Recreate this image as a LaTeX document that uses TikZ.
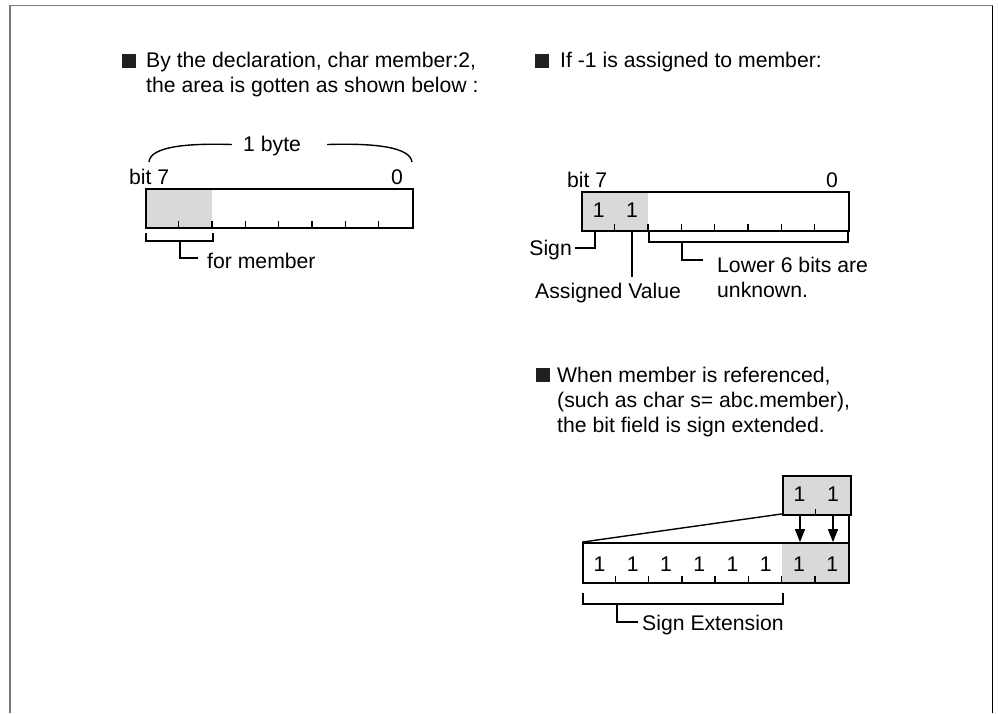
\documentclass[tikz,border=0pt]{standalone}
\usepackage{fontspec}
\setmainfont{Liberation Sans}
\usetikzlibrary{calc,backgrounds,arrows.meta}
\definecolor{cellgray}{RGB}{217,217,217}
\definecolor{bulletc}{RGB}{35,31,32}
\definecolor{framegray}{RGB}{120,120,120}
\begin{document}
\begin{tikzpicture}[x=1pt,y=-1pt,
  txt/.style={inner sep=0pt,font=\fontsize{21.2}{25}\selectfont},
  regbox/.style={draw,line width=1.8pt,inner sep=0pt,minimum height=39pt},
  tick/.style={line width=1.4pt},
  lead/.style={line width=1.4pt},
  bulletsq/.style={fill=bulletc,inner sep=0pt,minimum size=14pt},
  downarrow/.style={line width=1.4pt,-{Triangle[length=13pt,width=10pt]}}
]
\useasboundingbox (0,0) rectangle (998,713);
% frame
\draw[framegray,line width=1.6pt] (10,713) -- (10,5.5) -- (992.5,5.5);
\draw[black,line width=1.6pt] (992.5,5.5) -- (992.5,713);

% ---------------- left panel ----------------
\node[bulletsq] (bl1) at (129,60.5) {};
\node[txt,anchor=base west] (t1a) at (146,67) {By the declaration, char member:2,};
\node[txt,anchor=base west] (t1b) at (146,92) {the area is gotten as shown below :};

\node[txt,anchor=base west] (byte) at (243,151) {1 byte};
\coordinate (brL) at (149,162);
\coordinate (brR) at (412,162);
\draw[lead] (brL) .. controls (150,147) and (185,143) .. ($(byte.west)+(-11,-1)$);
\draw[lead] ($(byte.east)+(26,-1)$) .. controls (375,143) and (410,147) .. (brR);

\node[txt,anchor=base west] (bit7a) at (129,184) {bit 7};
\node[txt,anchor=base east] (zeroa) at (403,184) {0};

\node[regbox,minimum width=267pt] (A) at (279.5,208.5) {};
\begin{scope}[on background layer]
\fill[cellgray] (A.north west) rectangle ($(A.south west)+(66.75,0)$);
\end{scope}
\foreach \i in {1,...,7}
  \draw[tick] ($(A.south west)+(\i*33.375,0)$) -- ++(0,-8);

\coordinate (ba1) at (146,233);
\coordinate (ba2) at (213,233);
\draw[lead] (ba1) -- ++(0,8) -| (ba2);
\node[txt,anchor=base west] (formem) at (207,268) {for member};
\draw[lead] (180,241) |- ($(formem.base west)+(-9,-10)$);

% ---------------- right panel ----------------
\node[bulletsq] (bl2) at (542,60.5) {};
\node[txt,anchor=base west] (t2a) at (560,67) {If -1 is assigned to member:};

\node[txt,anchor=base west] (bit7b) at (567,187) {bit 7};
\node[txt,anchor=base east] (zerob) at (838,187) {0};

\node[regbox,minimum width=267pt] (B) at (715.5,211.5) {};
\begin{scope}[on background layer]
\fill[cellgray] (B.north west) rectangle ($(B.south west)+(66.75,0)$);
\end{scope}
\foreach \i in {1,...,7}
  \draw[tick] ($(B.south west)+(\i*33.375,0)$) -- ++(0,-8);
\node[txt,anchor=base] (b1) at (598.7,217) {1};
\node[txt,anchor=base] (b2) at (632.1,217) {1};

\node[txt,anchor=base east] (sign) at (572,255) {Sign};
\coordinate (sgtop) at (595,231);
\draw[lead] (sgtop) |- ($(sign.base east)+(3,-7)$);

\node[txt,anchor=base west] (assigned) at (535,298) {Assigned Value};
\coordinate (avtop) at (632,231);
\draw[lead] (avtop) -- (632,277);

\coordinate (bb1) at (649,232);
\coordinate (bb2) at (848,232);
\draw[lead] (bb1) -- ++(0,10) -| (bb2);
\node[txt,anchor=base west] (low1) at (717,272) {Lower 6 bits are};
\node[txt,anchor=base west] (low2) at (717,297) {unknown.};
\draw[lead] (682,242) |- ($(low1.base west)+(-14,-12)$);

% ---------------- sign extension panel ----------------
\node[bulletsq] (bl3) at (542.5,375) {};
\node[txt,anchor=base west] (t3a) at (557,382) {When member is referenced,};
\node[txt,anchor=base west] (t3b) at (557,407) {(such as char s= abc.member),};
\node[txt,anchor=base west] (t3c) at (557,432) {the bit field is sign extended.};

\node[regbox,minimum width=68pt,fill=cellgray] (D) at (817,495.5) {};
\draw[tick] ($(D.south west)+(33.25,0)$) -- ++(0,-7);
\node[txt,anchor=base] (d1) at (799.6,501.5) {1};
\node[txt,anchor=base] (d2) at (833,501.5) {1};

\node[regbox,minimum width=266pt,minimum height=40pt] (C) at (716,563) {};
\begin{scope}[on background layer]
\fill[cellgray] ($(C.north west)+(199.5,0)$) rectangle (C.south east);
\end{scope}
\foreach \i in {1,...,7}
  \draw[tick] ($(C.south west)+(\i*33.25,0)$) -- ++(0,-8);
\foreach \i in {0,...,7}
  \node[txt,anchor=base] (c\i) at (599.6+\i*33.25,571) {1};

\draw[lead] ($(D.south west)+(0,-2)$) -- (C.north west);
\coordinate (dr) at (849,515);
\draw[lead] (dr) -- (dr |- C.north);
\coordinate (a1) at (800,515);
\coordinate (a2) at (833,515);
\draw[downarrow] (a1) -- (a1 |- C.north);
\draw[downarrow] (a2) -- (a2 |- C.north);

\coordinate (bc1) at (583,593);
\coordinate (bc2) at (783,593);
\draw[lead] (bc1) -- ++(0,11) -| (bc2);
\node[txt,anchor=base west] (signext) at (642,630) {Sign Extension};
\draw[lead] (617,604) |- ($(signext.base west)+(-4,-8)$);
\end{tikzpicture}
\end{document}
